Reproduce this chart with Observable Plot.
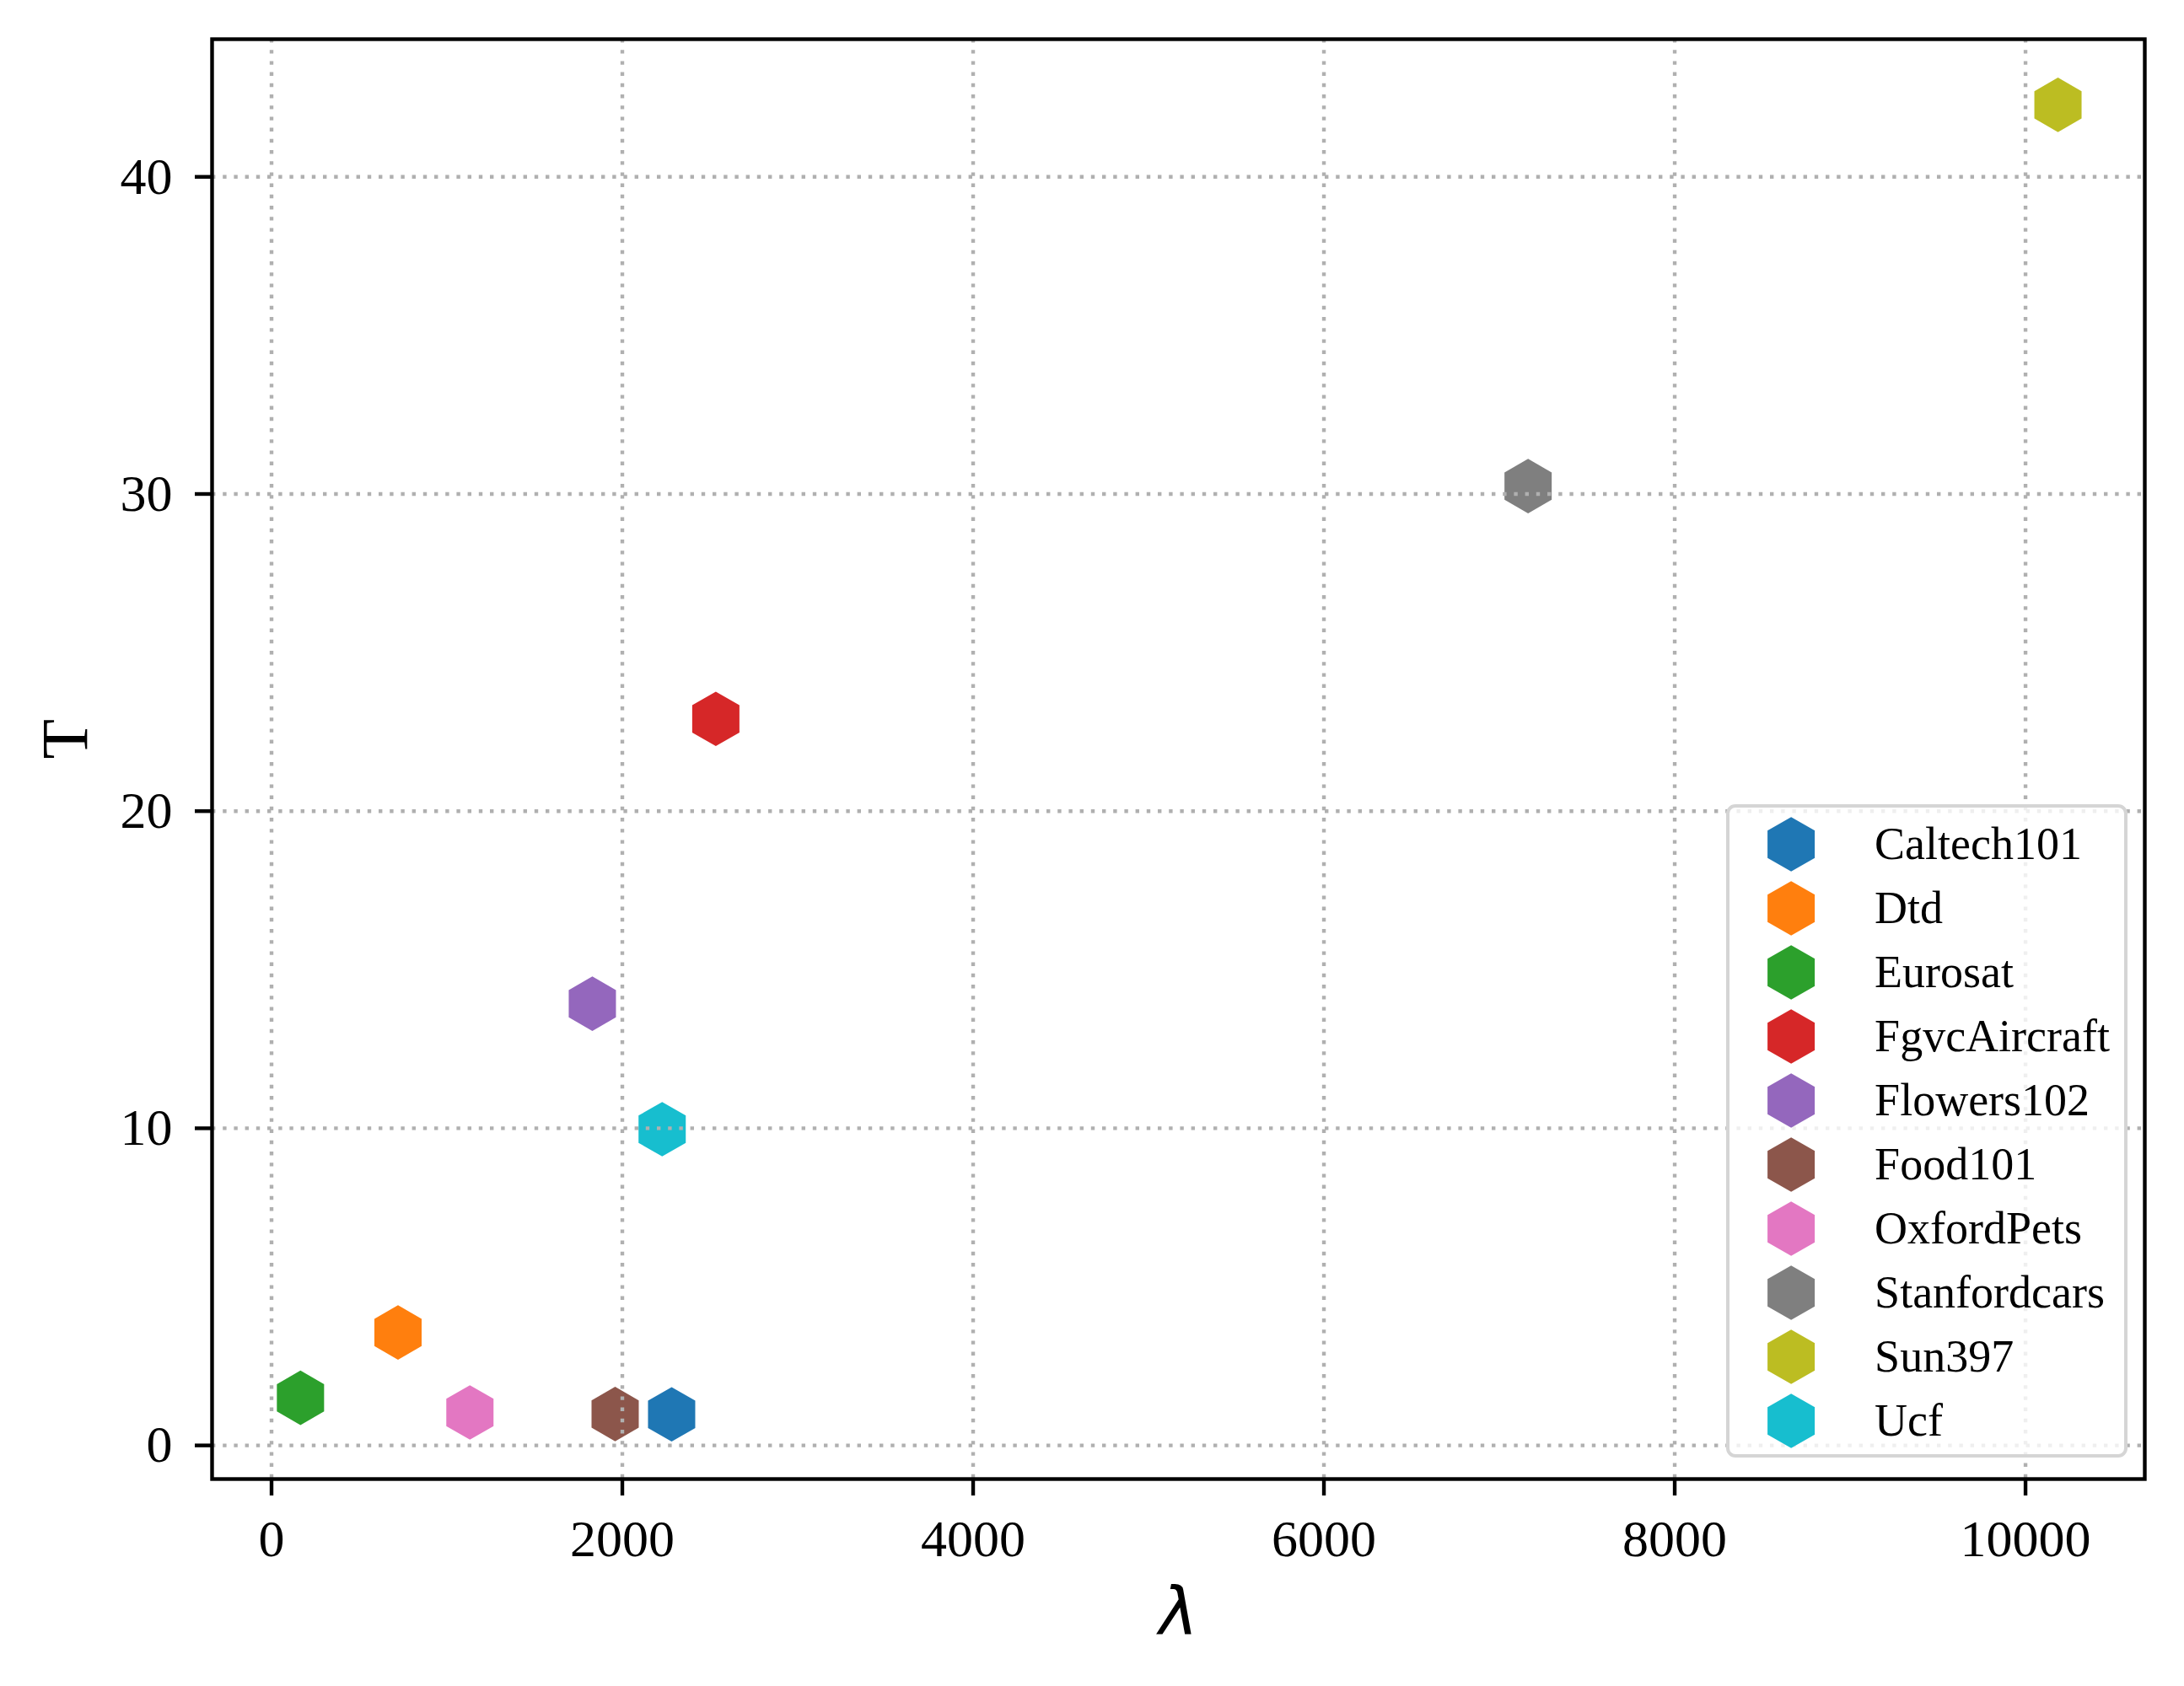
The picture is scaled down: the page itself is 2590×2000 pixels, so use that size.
<!DOCTYPE html>
<html>
<head>
<meta charset="utf-8">
<script src="https://cdn.jsdelivr.net/npm/d3@7"></script>
<script src="https://cdn.jsdelivr.net/npm/@observablehq/plot@0.6"></script>
<style>
  html, body { margin: 0; padding: 0; background: white; }
  #wrap { position: relative; width: 2590px; height: 2000px; }
  #legend {
    position: absolute; left: 2047px; top: 954px; width: 476px; height: 775px;
    box-sizing: border-box; border: 4.4px solid #d5d5d5; border-radius: 11px;
    background: rgba(255,255,255,0.8);
  }
</style>
</head>
<body>
<div id="wrap"><div id="chart"></div><div id="legend"></div></div>
<script>
const names = ["Caltech101","Dtd","Eurosat","FgvcAircraft","Flowers102","Food101","OxfordPets","Stanfordcars","Sun397","Ucf"];
const lambdaValues = [2281, 721, 165, 2533, 1829, 1959, 1131, 7164, 10185, 2227];
const tValues = [0.98, 3.56, 1.50, 22.91, 13.93, 0.99, 1.04, 30.25, 42.27, 9.97];
const colors = ["#1f77b4","#ff7f0e","#2ca02c","#d62728","#9467bd","#8c564b","#e377c2","#7f7f7f","#bcbd22","#17becf"];
const xTicks = [0, 2000, 4000, 6000, 8000, 10000];
const yTicks = [0, 10, 20, 30, 40];

const data = names.map((n, i) => ({name: n, lambda: lambdaValues[i], T: tValues[i]}));

const serif = "Liberation Serif, Times New Roman, serif";
const gridStyle = {stroke: "#b0b0b0", strokeOpacity: 1, strokeWidth: 4.4, strokeDasharray: "4.4,8.8"};

const chart = Plot.plot({
  width: 2590,
  height: 2000,
  marginLeft: 251,
  marginRight: 47,
  marginTop: 46,
  marginBottom: 246,
  style: {background: "white", fontFamily: serif, color: "black", overflow: "visible"},
  x: {domain: [-339, 10680], label: null},
  y: {domain: [-1.06, 44.34], label: null},
  color: {domain: names, range: colors},
  marks: [
    Plot.dot(data, {x: "lambda", y: "T", fill: "name", symbol: "hexagon", r: 28, stroke: "none"}),
    Plot.gridX(xTicks, gridStyle),
    Plot.gridY(yTicks, gridStyle),
    Plot.axisX(xTicks, {tickSize: 20, tickPadding: 27, strokeWidth: 4.4, fontSize: 62, tickFormat: d => String(d), label: null, fontFamily: serif}),
    Plot.axisY(yTicks, {tickSize: 20, tickPadding: 27, strokeWidth: 4.4, fontSize: 62, tickFormat: d => String(d), label: null, fontFamily: serif}),
    Plot.text(["λ"], {frameAnchor: "bottom", dy: 184, lineAnchor: "bottom", text: d => d, fontSize: 78, fontFamily: "DejaVu Sans", fontStyle: "italic", fill: "black"}),
    Plot.text(["T"], {frameAnchor: "left", dx: -149, rotate: -90, lineAnchor: "bottom", text: d => d, fontSize: 78, fontFamily: serif, fill: "black"}),
    Plot.frame({stroke: "black", strokeWidth: 4.4})
  ]
});
document.getElementById("chart").appendChild(chart);

const legend = Plot.plot({
  width: 467,
  height: 766,
  margin: 0,
  style: {background: "transparent", fontFamily: serif, overflow: "visible"},
  y: {type: "point", domain: names, range: [43, 727], padding: 0, axis: null},
  color: {domain: names, range: colors},
  marks: [
    Plot.dot(names, {y: d => d, fill: d => d, symbol: "hexagon", r: 28, frameAnchor: "left", dx: 72.6}),
    Plot.text(names, {y: d => d, text: d => d, frameAnchor: "left", dx: 171.6, textAnchor: "start", fontSize: 54, fontFamily: serif, fill: "black"})
  ]
});
document.getElementById("legend").appendChild(legend);
</script>
</body>
</html>
